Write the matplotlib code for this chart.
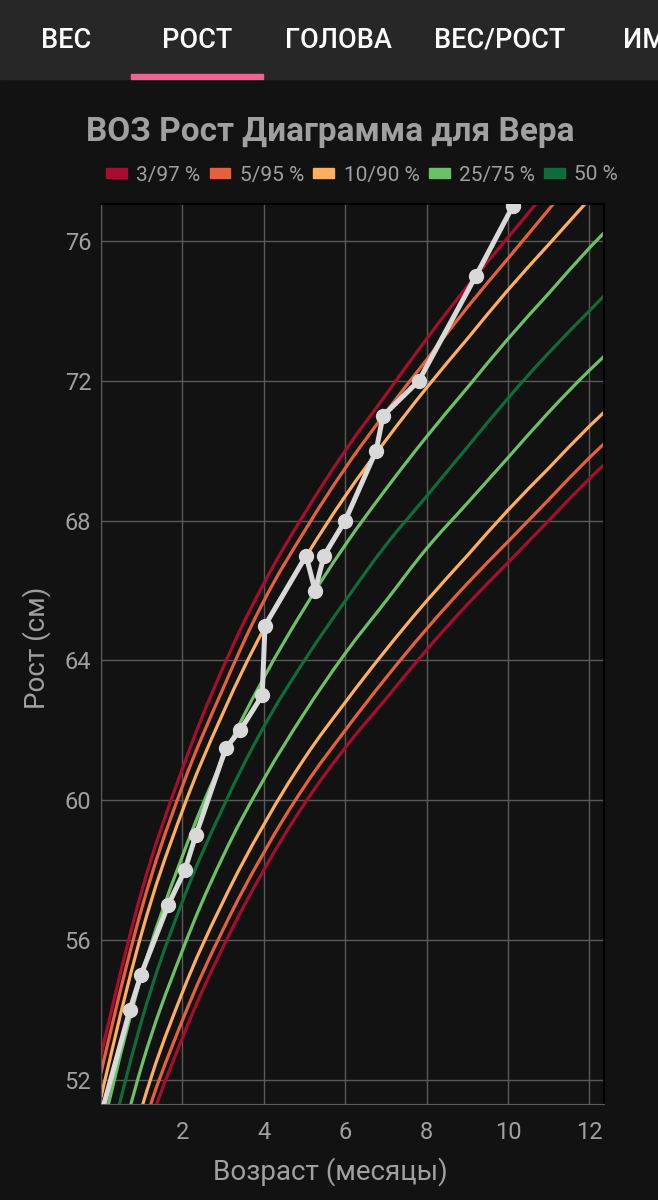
import matplotlib
matplotlib.use("Agg")
import numpy as np
import matplotlib.pyplot as plt
from matplotlib.patches import Patch, Rectangle, PathPatch
from matplotlib.path import Path

# WHO girls length-for-age percentiles, cm, by month
months = [0, 1, 2, 3, 4, 5, 6, 7, 8, 9, 10, 11, 12, 13]
p3 = [45.6, 50.0, 53.2, 55.8, 58.0, 59.9, 61.5, 62.9, 64.3, 65.6, 66.8, 68.0, 69.2, 70.3]
p5 = [46.1, 50.5, 53.7, 56.3, 58.5, 60.4, 62.0, 63.5, 64.9, 66.2, 67.4, 68.6, 69.8, 70.9]
p10 = [46.7, 51.2, 54.5, 57.1, 59.3, 61.2, 62.8, 64.3, 65.7, 67.0, 68.3, 69.5, 70.7, 71.8]
p25 = [47.9, 52.4, 55.7, 58.4, 60.6, 62.5, 64.2, 65.7, 67.2, 68.5, 69.8, 71.1, 72.3, 73.4]
p50 = [49.1, 53.7, 57.1, 59.8, 62.1, 64.0, 65.7, 67.3, 68.7, 70.1, 71.5, 72.8, 74.0, 75.2]
p75 = [50.4, 55.0, 58.4, 61.2, 63.5, 65.5, 67.3, 68.9, 70.4, 71.8, 73.2, 74.5, 75.8, 77.0]
p90 = [51.5, 56.2, 59.7, 62.5, 64.9, 66.9, 68.7, 70.3, 71.8, 73.2, 74.6, 75.9, 77.2, 78.5]
p95 = [52.2, 56.9, 60.4, 63.2, 65.7, 67.7, 69.5, 71.1, 72.6, 74.1, 75.5, 76.9, 78.3, 79.5]
p97 = [52.7, 57.4, 60.9, 63.8, 66.2, 68.2, 70.0, 71.6, 73.2, 74.7, 76.1, 77.5, 78.9, 80.2]

# child measurements
age = [0.0, 0.71, 0.98, 1.65, 2.06, 2.33, 3.07, 3.42, 3.96, 4.03, 5.04, 5.26,
       5.48, 6.0, 6.76, 6.93, 7.81, 9.21, 10.12]
height = [51.0, 54.0, 55.0, 57.0, 58.0, 59.0, 61.5, 62.0, 63.0, 65.0, 67.0, 66.0,
          67.0, 68.0, 70.0, 71.0, 72.0, 75.0, 77.0]

bands = [
    ("3/97 %", p3, p97, "#a50f2d"),
    ("5/95 %", p5, p95, "#e5603d"),
    ("10/90 %", p10, p90, "#fdae61"),
    ("25/75 %", p25, p75, "#6cc066"),
    ("50 %", p50, None, "#0f6b38"),
]
tabs = ["ВЕС", "РОСТ", "ГОЛОВА", "ВЕС/РОСТ", "ИМ"]
tab_x = [66, 197, 338, 500, 623]

BG = "#121212"
TXT = "#a0a0a0"
plt.rcParams["font.family"] = ["Roboto", "DejaVu Sans"]


def spline_path(ax, xs, ys, tension=0.4):
    """Bezier path through the points, like a chart.js 'tension' line."""
    pts = np.column_stack([xs, ys]).astype(float)
    disp = ax.transData.transform(pts)
    n = len(pts)
    c_in = pts.copy()
    c_out = pts.copy()
    for i in range(1, n - 1):
        d01 = np.hypot(*(disp[i] - disp[i - 1]))
        d12 = np.hypot(*(disp[i + 1] - disp[i]))
        s01 = d01 / (d01 + d12)
        s12 = d12 / (d01 + d12)
        delta = pts[i + 1] - pts[i - 1]
        c_in[i] = pts[i] - tension * s01 * delta
        c_out[i] = pts[i] + tension * s12 * delta
    verts = [pts[0]]
    codes = [Path.MOVETO]
    for i in range(n - 1):
        verts += [c_out[i], c_in[i + 1], pts[i + 1]]
        codes += [Path.CURVE4] * 3
    return Path(verts, codes)


W, H = 658, 1200
fig = plt.figure(figsize=(W / 100, H / 100), dpi=100, facecolor=BG)

# tab bar
fig.patches.append(Rectangle((0, 1 - 79 / H), 1, 79 / H, transform=fig.transFigure,
                             color="#272727", zorder=0))
fig.patches.append(Rectangle((131 / W, 1 - 79 / H), 132 / W, 5 / H, transform=fig.transFigure,
                             color="#f06292", zorder=1))
for name, x in zip(tabs, tab_x):
    ha = "left" if name == "ИМ" else "center"
    fig.text(x / W, 1 - 40 / H, name, color="white", fontsize=19.5, fontweight="medium",
             ha=ha, va="center")

fig.text(330 / W, 1 - 132 / H, "ВОЗ Рост Диаграмма для Вера", color=TXT, fontsize=24,
         fontweight="bold", ha="center", va="center")

ax = fig.add_axes([101 / W, 96 / H, 503 / W, 900 / H])
ax.set_facecolor(BG)
ax.set_xlim(0, 12.36)
ax.set_ylim(51.31, 77.06)

for label, lo, hi, color in bands:
    for series in (lo, hi):
        if series is None:
            continue
        ax.add_patch(PathPatch(spline_path(ax, months, series), facecolor="none",
                               edgecolor=color, linewidth=2.3, zorder=2))

ax.plot(age, height, "-o", color="#d9d9d9", linewidth=3.6, markersize=10, zorder=5)

ax.set_xticks([0, 2, 4, 6, 8, 10, 12])
ax.set_xticklabels(["", "2", "4", "6", "8", "10", "12"])
ax.set_yticks([52, 56, 60, 64, 68, 72, 76])
ax.grid(True, color="#5a5a5a", linewidth=1)
ax.set_axisbelow(True)
ax.tick_params(length=0, labelsize=17, labelcolor=TXT)
ax.tick_params(axis="x", pad=12)
ax.tick_params(axis="y", pad=7)
for side in ["left", "bottom"]:
    ax.spines[side].set_color("#5a5a5a")
for side in ["top", "right"]:
    ax.spines[side].set_color("#000000")
    ax.spines[side].set_linewidth(1.5)

ax.set_xlabel("Возраст (месяцы)", color=TXT, fontsize=20, labelpad=10)
ax.xaxis.label.set_x((330 - 101) / 503)
ax.set_ylabel("Рост (см)", color=TXT, fontsize=20, labelpad=10)
ax.yaxis.label.set_y((1104 - 648) / 900)

handles = [Patch(color=c, label=l) for l, _, _, c in bands]
fig.legend(handles=handles, loc="center", bbox_to_anchor=(362 / W, 1 - 175 / H), ncol=5,
           frameon=False, fontsize=15, labelcolor=TXT, handlelength=1.0, handleheight=0.35,
           handletextpad=0.45, columnspacing=0.45, borderaxespad=0)

fig.savefig("out.png", dpi=100, facecolor=BG)
